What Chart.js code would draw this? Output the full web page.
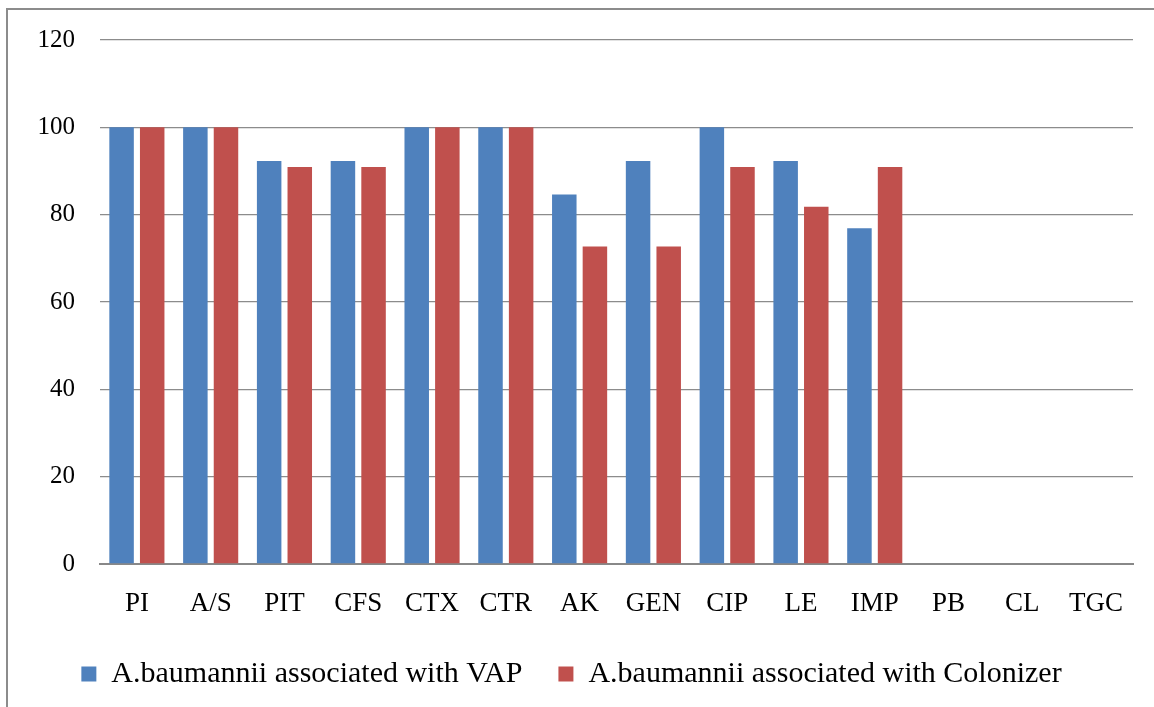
<!DOCTYPE html>
<html>
<head>
<meta charset="utf-8">
<script src="https://cdn.jsdelivr.net/npm/chart.js@4"></script>
<style>
  html, body { margin: 0; padding: 0; background: #fff; }
  #wrap { position: relative; width: 1154px; height: 707px; overflow: hidden; }
  #frame { position: absolute; left: 6px; top: 8px; width: 1160px; height: 720px; border: 2px solid #8c8c8c; box-sizing: border-box; }
  #chart { position: absolute; left: 0; top: 0; }
</style>
</head>
<body>
<div id="wrap">
  <div id="frame"></div>
  <canvas id="chart" width="1154" height="707"></canvas>
</div>
<script>
const antibiotics = ['PI', 'A/S', 'PIT', 'CFS', 'CTX', 'CTR', 'AK', 'GEN', 'CIP', 'LE', 'IMP', 'PB', 'CL', 'TGC'];
const vapValues = [100, 100, 92.3, 92.3, 100, 100, 84.6, 92.3, 100, 92.3, 76.9, 0, 0, 0];
const colonizerValues = [100, 100, 90.9, 90.9, 100, 100, 72.7, 72.7, 90.9, 81.8, 90.9, 0, 0, 0];
const yTicks = [0, 20, 40, 60, 80, 100, 120];

const serif = '"Liberation Serif", "Times New Roman", serif';

const data = {
    labels: antibiotics,
    datasets: [{
        label: 'A.baumannii associated with VAP',
        data: vapValues,
        backgroundColor: '#4f81bd',
        borderWidth: 0
    },
    {
        label: 'A.baumannii associated with Colonizer',
        data: colonizerValues,
        backgroundColor: '#c0504d',
        borderWidth: 0
    }]
};

const config = {
    type: 'bar',
    data,
    options: {
        responsive: false,
        animation: false,
        datasets: {
            bar: { categoryPercentage: 0.83, barPercentage: 0.8 }
        },
        layout: {
            padding: { top: 38, right: 21, bottom: 8, left: 10 }
        },
        plugins: {
            tooltip: { enabled: false },
            legend: {
                position: 'bottom',
                labels: {
                    color: '#000',
                    font: { family: serif, size: 30 },
                    boxWidth: 15,
                    boxHeight: 15,
                    padding: 36
                }
            }
        },
        scales: {
            x: {
                afterFit: (scale) => { scale.height = 59; },
                grid: { display: false, drawTicks: false },
                border: { color: '#888', width: 2 },
                ticks: {
                    color: '#000',
                    font: { family: serif, size: 27 },
                    padding: 24,
                    maxRotation: 0
                }
            },
            y: {
                min: 0,
                max: 120,
                afterBuildTicks: (scale) => { scale.ticks = yTicks.map(v => ({ value: v })); },
                afterFit: (scale) => { scale.width = 90; },
                grid: { color: '#8c8c8c', lineWidth: 1.3, drawTicks: false },
                border: { display: false },
                ticks: {
                    color: '#000',
                    font: { family: serif, size: 25 },
                    padding: 25
                }
            }
        }
    }
};

var chart = document.getElementById('chart');
var myChart = new Chart(chart, config);
</script>
</body>
</html>
